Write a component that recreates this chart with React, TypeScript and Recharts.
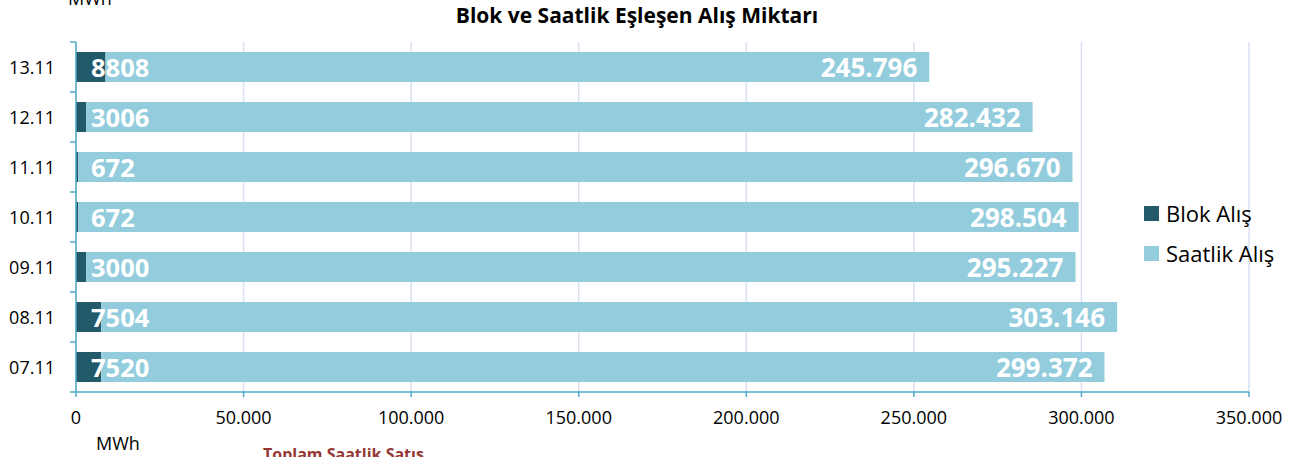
import { Bar, BarChart, CartesianGrid, LabelList, XAxis, YAxis } from 'recharts'

const dates = ['13.11', '12.11', '11.11', '10.11', '09.11', '08.11', '07.11']
const blokAlis = [8808, 3006, 672, 672, 3000, 7504, 7520]
const saatlikAlis = [245796, 282432, 296670, 298504, 295227, 303146, 299372]
const xTicks = [0, 50000, 100000, 150000, 200000, 250000, 300000, 350000]

const data = dates.map((date, i) => ({ date, blok: blokAlis[i], saatlik: saatlikAlis[i] }))

const AXIS = '#4fa9c7'
const DARK = '#235a6a'
const LIGHT = '#93cddd'
const FONT = '"Open Sans", sans-serif'

// 1.234.567 style
const fmt = (v: number) => String(v).replace(/\B(?=(\d{3})+(?!\d))/g, '.')

const YTick = (props: any) => {
  const { x, y, payload, index } = props
  const ax = x + 21
  return (
    <g>
      <text x={x} y={y} textAnchor="end" dominantBaseline="central" fontSize={18} fill="#000" fontFamily={FONT}>
        {payload.value}
      </text>
      <line x1={ax - 6} x2={ax} y1={y - 25} y2={y - 25} stroke={AXIS} strokeWidth={1.5} />
      {index === dates.length - 1 && <line x1={ax - 6} x2={ax} y1={y + 25} y2={y + 25} stroke={AXIS} strokeWidth={1.5} />}
    </g>
  )
}

const BlokLabel = (props: any) => {
  const { y, height, value } = props
  return (
    <text x={76 + 15} y={y + height / 2} dominantBaseline="central" fill="#fff" fontWeight="bold" fontSize={25.5} fontFamily={FONT}>
      {value}
    </text>
  )
}

const SaatlikLabel = (props: any) => {
  const { x, y, width, height, value } = props
  return (
    <text x={x + width - 12} y={y + height / 2} textAnchor="end" dominantBaseline="central" fill="#fff" fontWeight="bold" fontSize={26} fontFamily={FONT}>
      {fmt(value)}
    </text>
  )
}

export default function App() {
  return (
    <div style={{ position: 'absolute', left: 0, top: 0, width: 1297, height: 457, overflow: 'hidden', fontFamily: FONT, background: '#fff' }}>
      <BarChart
        width={1297}
        height={457}
        data={data}
        layout="vertical"
        margin={{ top: 42, right: 48, bottom: 35, left: 0 }}
        barSize={30}
      >
        <CartesianGrid horizontal={false} stroke="#d9e1ef" strokeWidth={1.5} />
        <XAxis
          type="number"
          domain={[0, 350000]}
          ticks={xTicks}
          tickFormatter={fmt}
          height={30}
          interval={0}
          stroke={AXIS}
          strokeWidth={1.5}
          tickSize={5}
          tickMargin={14}
          tick={{ fill: '#000', fontSize: 18, fontFamily: FONT }}
        />
        <YAxis
          type="category"
          dataKey="date"
          width={76}
          stroke={AXIS}
          strokeWidth={1.5}
          tickSize={0}
          tickMargin={21}
          tick={<YTick />}
          interval={0}
        />
        <Bar dataKey="blok" stackId="a" fill={DARK} isAnimationActive={false}>
          <LabelList dataKey="blok" content={<BlokLabel />} />
        </Bar>
        <Bar dataKey="saatlik" stackId="a" fill={LIGHT} isAnimationActive={false}>
          <LabelList dataKey="saatlik" content={<SaatlikLabel />} />
        </Bar>
      </BarChart>

      <div style={{ position: 'absolute', left: 0, width: 1274, top: 1, textAlign: 'center', fontWeight: 'bold', fontSize: 21 }}>
        Blok ve Saatlik Eşleşen Alış Miktarı
      </div>
      <div style={{ position: 'absolute', left: 68, top: -14, fontSize: 18 }}>MWh</div>
      <div style={{ position: 'absolute', left: 96, top: 431, fontSize: 18 }}>MWh</div>
      <div style={{ position: 'absolute', left: 263, top: 443, fontSize: 16, fontWeight: 'bold', color: '#953735' }}>
        Toplam Saatlik Satış
      </div>

      <div style={{ position: 'absolute', left: 1144, top: 193, fontSize: 22, lineHeight: '40px' }}>
        <div style={{ display: 'flex', alignItems: 'center' }}>
          <span style={{ width: 15, height: 15, background: DARK, marginRight: 7, display: 'inline-block' }} />
          Blok Alış
        </div>
        <div style={{ display: 'flex', alignItems: 'center' }}>
          <span style={{ width: 15, height: 15, background: LIGHT, marginRight: 7, display: 'inline-block' }} />
          Saatlik Alış
        </div>
      </div>
    </div>
  )
}
